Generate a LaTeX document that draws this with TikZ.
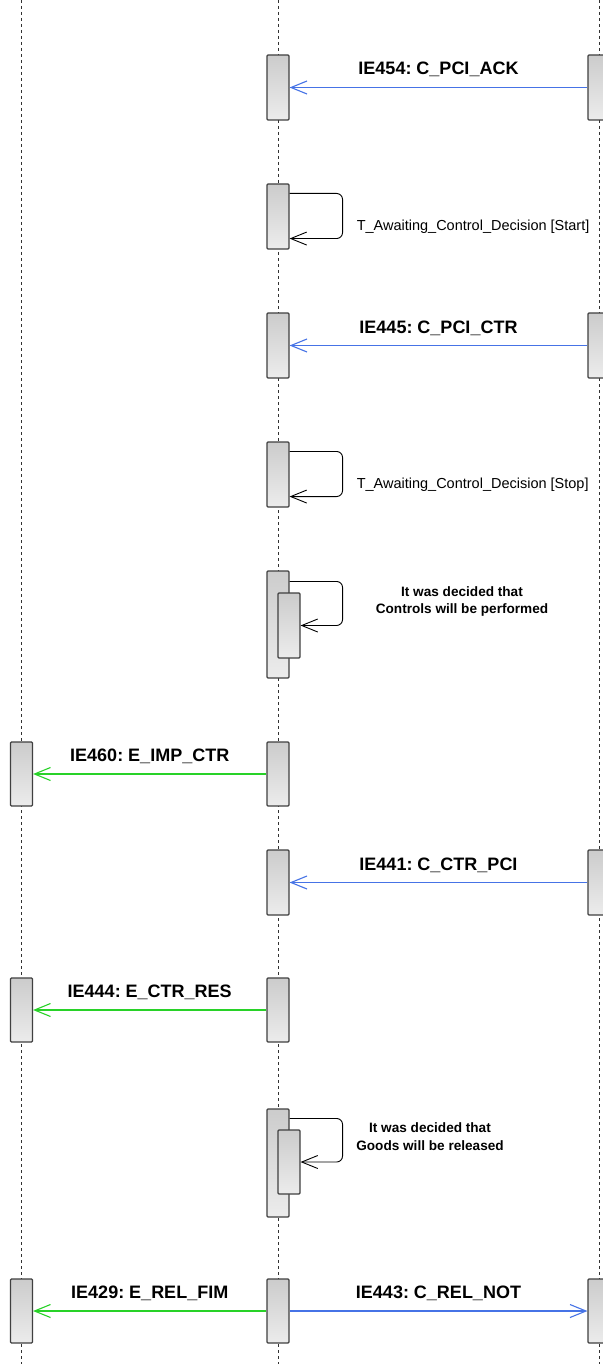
\documentclass[tikz,border=0pt]{standalone}
\usepackage{fontspec}
\setmainfont{Liberation Sans}
\usetikzlibrary{arrows.meta,calc}
\definecolor{msgblue}{RGB}{70,115,230}
\definecolor{msggreen}{RGB}{40,210,40}
\definecolor{boxtop}{RGB}{204,204,204}
\definecolor{boxbot}{RGB}{236,236,236}
\definecolor{boxline}{RGB}{64,64,64}
\definecolor{lifecol}{RGB}{50,50,50}
\begin{document}
\frenchspacing
\begin{tikzpicture}[x=1pt,y=-1pt,
  lifeline/.style={draw=lifecol, line width=1pt, dash pattern=on 3pt off 3pt},
  actbox/.style={draw=boxline, line width=1.1pt, top color=boxtop, bottom color=boxbot,
    minimum width=22pt, inner sep=0pt, rounded corners=1pt},
  tip/.style={-{Straight Barb[length=16pt,width=13pt]}},
  bluemsg/.style={tip, draw=msgblue, line width=1.1pt},
  greenmsg/.style={tip, draw=msggreen, line width=1.1pt},
  selfmsg/.style={tip, draw=black, line width=0.9pt, rounded corners=6pt},
  msglbl/.style={midway, anchor=base, yshift=12.5pt, inner sep=0pt,
    font=\fontsize{18}{20}\selectfont\bfseries},
  selflbl/.style={anchor=base west, inner sep=0pt, font=\fontsize{14.5}{17}\selectfont},
  notelbl/.style={anchor=base, inner sep=0pt, font=\fontsize{13.6}{17}\selectfont\bfseries}
]
\useasboundingbox (0,0) rectangle (602,1364);
\fill[white] (0,0) rectangle (602,1364);

% lifelines
\coordinate (Lt) at (21.5,0);   \coordinate (Lb) at (21.5,1364);
\coordinate (Mt) at (278,0);    \coordinate (Mb) at (278,1364);
\coordinate (Rt) at (599,0);    \coordinate (Rb) at (599,1364);
\draw[lifeline] (Lt) -- (Lb);
\draw[lifeline] (Mt) -- (Mb);
\draw[lifeline] (Rt) -- (Rb);

% activation boxes
\node[actbox, minimum height=65pt] (m1) at (278,87.5) {};
\node[actbox, minimum height=65pt] (r1) at (599,87.5) {};
\node[actbox, minimum height=65pt] (m2) at (278,216.5) {};
\node[actbox, minimum height=65pt] (m3) at (278,345.5) {};
\node[actbox, minimum height=65pt] (r3) at (599,345.5) {};
\node[actbox, minimum height=65pt] (m4) at (278,474.5) {};
\node[actbox, minimum height=107pt] (m5) at (278,624.5) {};
\node[actbox, minimum height=65pt] (m5i) at (289,625.5) {};
\node[actbox, minimum height=64pt] (m6) at (278,774) {};
\node[actbox, minimum height=64pt] (l6) at (21.5,774) {};
\node[actbox, minimum height=65pt] (m7) at (278,882.5) {};
\node[actbox, minimum height=65pt] (r7) at (599,882.5) {};
\node[actbox, minimum height=64pt] (m8) at (278,1010) {};
\node[actbox, minimum height=64pt] (l8) at (21.5,1010) {};
\node[actbox, minimum height=108pt] (m9) at (278,1163) {};
\node[actbox, minimum height=64pt] (m9i) at (289,1162) {};
\node[actbox, minimum height=64pt] (m10) at (278,1311) {};
\node[actbox, minimum height=64pt] (l10) at (21.5,1311) {};
\node[actbox, minimum height=64pt] (r10) at (599,1311) {};

% messages
\draw[bluemsg] (r1.west) -- node[msglbl] {IE454: C\_PCI\_ACK} (m1.east);

\draw[selfmsg] ([yshift=-10pt]m2.north east) -- ++(53,0) |- ([yshift=11pt]m2.south east);
\node[selflbl] (t2) at ([xshift=67pt,yshift=-47pt]m2.north east) {T\_Awaiting\_Control\_Decision [Start]};

\draw[bluemsg] (r3.west) -- node[msglbl] {IE445: C\_PCI\_CTR} (m3.east);

\draw[selfmsg] ([yshift=-10pt]m4.north east) -- ++(53,0) |- ([yshift=11pt]m4.south east);
\node[selflbl] (t4) at ([xshift=67pt,yshift=-47pt]m4.north east) {T\_Awaiting\_Control\_Decision [Stop]};

\draw[selfmsg] ([yshift=-11pt]m5.north east) -- ++(53,0) |- (m5i.east);
\node[notelbl] (t5a) at (462,596) {It was decided that};
\node[notelbl] (t5b) at (462,613.5) {Controls will be performed};

\draw[greenmsg] (m6.west) -- node[msglbl] {IE460: E\_IMP\_CTR} (l6.east);

\draw[bluemsg] (r7.west) -- node[msglbl] {IE441: C\_CTR\_PCI} (m7.east);

\draw[greenmsg] (m8.west) -- node[msglbl] {IE444: E\_CTR\_RES} (l8.east);

\draw[selfmsg] ([yshift=-10pt]m9.north east) -- ++(53,0) |- (m9i.east);
\node[notelbl] (t9a) at (430,1132) {It was decided that};
\node[notelbl] (t9b) at (430,1150) {Goods will be released};

\draw[greenmsg] (m10.west) -- node[msglbl] {IE429: E\_REL\_FIM} (l10.east);
\draw[bluemsg] (m10.east) -- node[msglbl] {IE443: C\_REL\_NOT} (r10.west);
\end{tikzpicture}
\end{document}
